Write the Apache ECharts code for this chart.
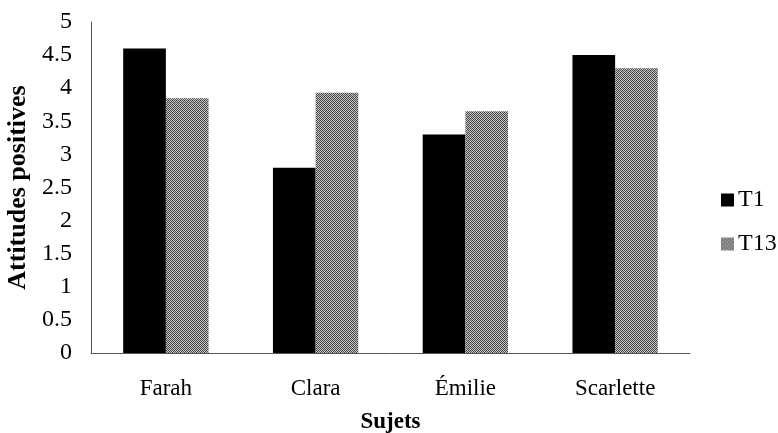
<!DOCTYPE html>
<html>
<head>
<meta charset="utf-8">
<script src="https://cdn.jsdelivr.net/npm/echarts@6/dist/echarts.min.js"></script>
<style>html,body{margin:0;padding:0;background:#fff;}#c{width:778px;height:433px;}</style>
</head>
<body>
<div id="c"></div>
<script>
const categories = ['Farah', 'Clara', 'Émilie', 'Scarlette'];
const seriesNames = ['T1', 'T13'];
const t1Values = [4.6, 2.8, 3.3, 4.5];
const t13Values = [3.85, 3.93, 3.65, 4.3];
const yTicks = [0, 0.5, 1, 1.5, 2, 2.5, 3, 3.5, 4, 4.5, 5];

function makePattern() {
  const cv = document.createElement('canvas');
  cv.width = 4; cv.height = 4;
  const ctx = cv.getContext('2d');
  const cells = [
    '#3c3c3c', '#c8c8c8', '#5a5a5a', '#b4b4b4',
    '#bebebe', '#4a4a4a', '#d0d0d0', '#444444',
    '#505050', '#b8b8b8', '#3e3e3e', '#c6c6c6',
    '#cacaca', '#464646', '#bcbcbc', '#565656'
  ];
  for (let y = 0; y < 4; y++) {
    for (let x = 0; x < 4; x++) {
      ctx.fillStyle = cells[y * 4 + x];
      ctx.fillRect(x, y, 1, 1);
    }
  }
  return cv;
}
const pattern = { image: makePattern(), repeat: 'repeat' };

const serif = '"Liberation Serif", "Times New Roman", serif';
const chart = echarts.init(document.getElementById('c'), null, { renderer: 'canvas' });
chart.setOption({
  animation: false,
  backgroundColor: '#fff',
  grid: { left: 91, right: 88, top: 22, bottom: 80, containLabel: false, outerBoundsMode: 'none' },
  legend: {
    orient: 'vertical',
    left: 716,
    top: 183,
    itemWidth: 13,
    itemHeight: 13,
    itemGap: 20,
    icon: 'rect',
    textStyle: { fontFamily: serif, fontSize: 24, color: '#000', padding: [0, 0, 0, -1] },
    data: seriesNames
  },
  xAxis: {
    type: 'category',
    data: categories,
    name: 'Sujets',
    nameLocation: 'middle',
    nameGap: 58,
    nameTextStyle: { fontFamily: serif, fontSize: 23, fontWeight: 'bold', color: '#000' },
    axisLine: { lineStyle: { color: '#555', width: 1 } },
    axisTick: { show: false },
    axisLabel: { fontFamily: serif, fontSize: 23, color: '#000', margin: 24 }
  },
  yAxis: {
    type: 'value',
    min: 0,
    max: 5,
    interval: 0.5,
    name: 'Attitudes positives',
    nameLocation: 'middle',
    nameGap: 60,
    nameTextStyle: { fontFamily: serif, fontSize: 26, fontWeight: 'bold', color: '#000' },
    axisLine: { show: true, lineStyle: { color: '#555', width: 1 } },
    axisTick: { show: false },
    splitLine: { show: false },
    axisLabel: {
      fontFamily: serif, fontSize: 24, color: '#000', margin: 19,
      formatter: v => yTicks.includes(v) ? String(v) : ''
    }
  },
  series: [
    { name: seriesNames[0], type: 'bar', data: t1Values, barGap: '0%', barCategoryGap: '43%',
      itemStyle: { color: '#000' } },
    { name: seriesNames[1], type: 'bar', data: t13Values, barGap: '0%', barCategoryGap: '43%',
      itemStyle: { color: pattern } }
  ]
});
</script>
</body>
</html>
